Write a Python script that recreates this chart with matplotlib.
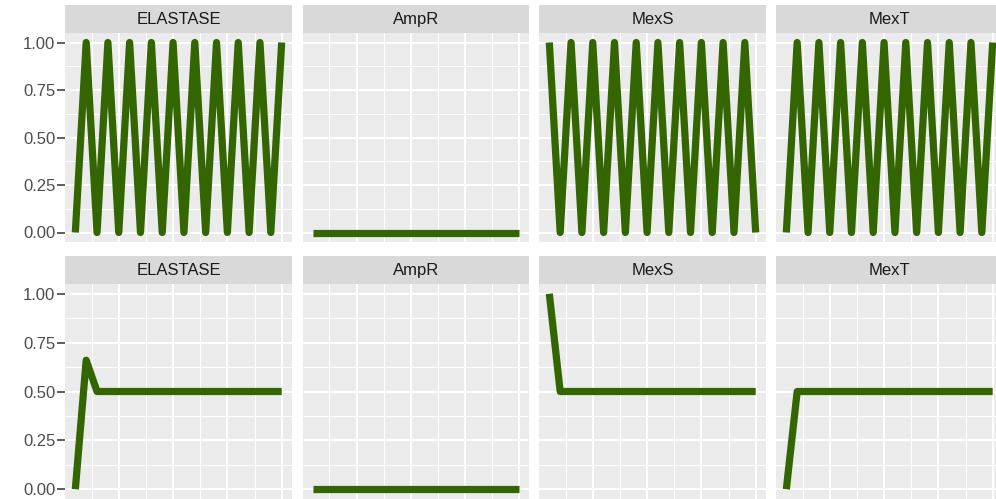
import matplotlib
matplotlib.use("Agg")
import matplotlib.pyplot as plt
import numpy as np

plt.rcParams['font.family'] = ['Liberation Sans', 'DejaVu Sans']

# ---- data ----
genes = ["ELASTASE", "AmpR", "MexS", "MexT"]
steps = list(range(1, 21))
top_elastase = [0, 1] * 10
top_ampr = [0] * 20
top_mexs = [1, 0] * 10
top_mext = [0, 1] * 10
bot_elastase = [0, 0.66, 0.5] + [0.5] * 17
bot_ampr = [0] * 20
bot_mexs = [1, 0.5] + [0.5] * 18
bot_mext = [0, 0.5] + [0.5] * 18
y_ticks = [0.0, 0.25, 0.5, 0.75, 1.0]
y_ticklabels = ["0.00", "0.25", "0.50", "0.75", "1.00"]

rows_data = [[top_elastase, top_ampr, top_mexs, top_mext],
             [bot_elastase, bot_ampr, bot_mexs, bot_mext]]

LINE = "#336600"
W, H = 996, 499
fig = plt.figure(figsize=(W / 100, H / 100), dpi=100)
fig.patch.set_facecolor("white")


def fax(x0, y0, x1, y1):
    return fig.add_axes([x0 / W, 1 - y1 / H, (x1 - x0) / W, (y1 - y0) / H])


cols = [(65, 292), (303, 529), (539, 766), (776, 1003)]
rows = [(5, 33, 242), (256, 284, 499)]

for r, (s0, p0, p1) in enumerate(rows):
    for c, (x0, x1) in enumerate(cols):
        # strip
        sa = fax(x0, s0, x1, p0)
        sa.set_facecolor("#D9D9D9")
        sa.set_xticks([]); sa.set_yticks([])
        for sp in sa.spines.values():
            sp.set_visible(False)
        sa.text(0.5, 0.47, genes[c], ha="center", va="center",
                fontsize=12, color="#1A1A1A", transform=sa.transAxes)
        # panel
        ax = fax(x0, p0, x1, p1)
        ax.set_facecolor("#EBEBEB")
        for sp in ax.spines.values():
            sp.set_visible(False)
        ax.set_xlim(1 - 0.95, 20 + 0.95)
        ax.set_ylim(-0.05, 1.05)
        ax.set_xticks([5, 10, 15, 20])
        ax.set_xticks([2.5, 7.5, 12.5, 17.5], minor=True)
        ax.set_yticks(y_ticks)
        ax.set_yticks([0.125, 0.375, 0.625, 0.875], minor=True)
        ax.grid(which="major", color="white", linewidth=1.5)
        ax.grid(which="minor", color="white", linewidth=0.75)
        ax.set_axisbelow(True)
        ax.tick_params(axis="x", which="both", length=0, labelbottom=False)
        ax.tick_params(axis="y", which="minor", length=0)
        if c == 0:
            ax.set_yticklabels(y_ticklabels)
            ax.tick_params(axis="y", which="major", length=5.5, width=1.1,
                           color="#333333", labelsize=12, labelcolor="#4D4D4D",
                           pad=1.5)
        else:
            ax.tick_params(axis="y", which="major", length=0, labelleft=False)
        ax.plot(steps, rows_data[r][c], color=LINE, linewidth=5.2,
                solid_joinstyle="round", solid_capstyle="butt")

fig.savefig("out.png", dpi=100)
